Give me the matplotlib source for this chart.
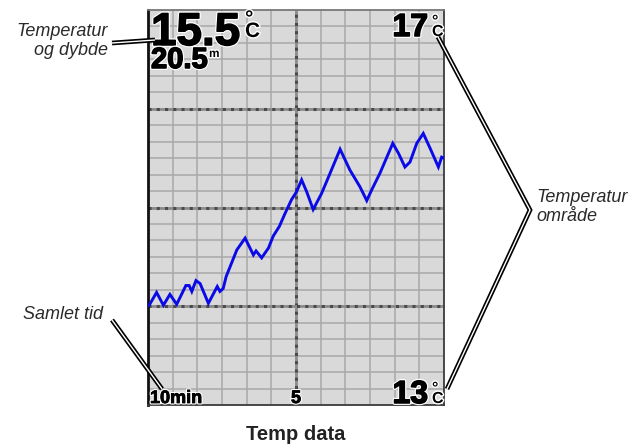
import matplotlib
matplotlib.use("Agg")
import matplotlib.pyplot as plt
import matplotlib.patheffects as pe
import numpy as np

# Temperature log: minutes ago and water temperature (°C)
minutes_ago = [9.96, 9.71, 9.48, 9.26, 9.03, 8.72, 8.61, 8.52, 8.38, 8.24,
               7.96, 7.66, 7.57, 7.46, 7.36, 7.00, 6.72, 6.44, 6.35, 6.16,
               5.93, 5.77, 5.56, 5.37, 5.15, 4.98, 4.81, 4.64, 4.42, 4.14,
               3.97, 3.51, 3.18, 2.84, 2.61, 2.44, 2.16, 1.73, 1.54, 1.32,
               1.15, 0.92, 0.70, 0.47, 0.19, 0.08, 0.0]
temperature = [14.01, 14.14, 14.01, 14.12, 14.02, 14.21, 14.21, 14.15, 14.26, 14.23,
               14.03, 14.20, 14.15, 14.18, 14.30, 14.57, 14.69, 14.52, 14.56, 14.49,
               14.59, 14.71, 14.81, 14.94, 15.08, 15.16, 15.28, 15.16, 14.98, 15.14,
               15.26, 15.59, 15.38, 15.21, 15.07, 15.18, 15.35, 15.65, 15.55, 15.41,
               15.46, 15.65, 15.75, 15.60, 15.41, 15.51, 15.5]

current_temp = 15.5
current_depth = 20.5
range_min = 13
range_max = 17
time_span = 10
time_mid = 5

callout_depth = "Temperatur\nog dybde"
callout_time = "Samlet tid"
callout_range = "Temperatur\nområde"
caption = "Temp data"

W, H = 629, 444
fig = plt.figure(figsize=(W / 100, H / 100), dpi=100)
fig.patch.set_facecolor("white")

# Chart panel
L, R, T, B = 148, 444, 10, 405
ax = fig.add_axes([L / W, 1 - B / H, (R - L) / W, (B - T) / H])
ax.set_facecolor("#d9d9d9")
ax.set_xlim(time_span, 0)
ax.set_ylim(range_min, range_max)
ax.set_xticks([])
ax.set_yticks([])

# Fine grid
for xv in np.linspace(0, time_span, 13)[1:-1]:
    ax.axvline(xv, color="#a8a8a8", lw=1.1, zorder=1)
for yv in np.linspace(range_min, range_max, 25)[1:-1]:
    ax.axhline(yv, color="#a8a8a8", lw=1.1, zorder=1)

# Major divisions: grey rule with dark tick marks
base_kw = dict(color="#8c8c8c", lw=2.0, zorder=2)
dash_kw = dict(color="#4a4a4a", lw=2.2, dashes=(1.0, 1.7), zorder=2)
ax.axvline(time_mid, **base_kw)
ax.axvline(time_mid, **dash_kw)
for yv in range(range_min + 1, range_max):
    ax.axhline(yv, **base_kw)
    ax.axhline(yv, **dash_kw)

for side, sp in ax.spines.items():
    sp.set_color("#3a3a3a")
    sp.set_linewidth(1.3)
ax.spines["left"].set_color("#111111")
ax.spines["left"].set_linewidth(2.0)
ax.spines["top"].set_color("#777777")

ax.plot(minutes_ago, temperature, color="#0a0ae8", lw=2.1, zorder=3,
        solid_joinstyle="miter")

# Overlay in pixel coordinates for labels and leader lines
ov = fig.add_axes([0, 0, 1, 1], zorder=5)
ov.set_xlim(0, W)
ov.set_ylim(H, 0)
ov.axis("off")
ov.patch.set_alpha(0)

heavy = [pe.Stroke(linewidth=2.8, foreground="white"),
         pe.Stroke(linewidth=1.1, foreground="black"), pe.Normal()]
medium = [pe.Stroke(linewidth=2.2, foreground="white"),
          pe.Stroke(linewidth=0.6, foreground="black"), pe.Normal()]
light = [pe.Stroke(linewidth=2.0, foreground="white"), pe.Normal()]
bold = dict(family="Liberation Sans", weight="bold", color="black")

# Current reading
ov.text(151, 45, f"{current_temp:.1f}", fontsize=33, ha="left", va="baseline",
        path_effects=heavy, **bold)
ov.text(245, 37, "°\nC", fontsize=15, ha="left", va="baseline", linespacing=0.55,
        path_effects=light, **bold)

ov.text(151, 68, f"{current_depth:.1f}", fontsize=21, ha="left", va="baseline",
        path_effects=heavy, **bold)
ov.text(209, 57, "m", fontsize=8.5, ha="left", va="baseline",
        path_effects=light, **bold)

# Range limits
ov.text(428, 36, f"{range_max}", fontsize=23, ha="right", va="baseline",
        path_effects=heavy, **bold)
ov.text(432, 36, "°\nC", fontsize=11.5, ha="left", va="baseline", linespacing=0.6,
        path_effects=light, **bold)

ov.text(428, 403, f"{range_min}", fontsize=23, ha="right", va="baseline",
        path_effects=heavy, **bold)
ov.text(432, 403, "°\nC", fontsize=11.5, ha="left", va="baseline", linespacing=0.6,
        path_effects=light, **bold)

# Time scale
ov.text(150, 403, f"{time_span}min", fontsize=13, ha="left", va="baseline",
        path_effects=medium, **bold)
ov.text(296, 403, f"{time_mid}", fontsize=13, ha="center", va="baseline",
        path_effects=medium, **bold)

# Callout texts
ital = dict(family="Liberation Sans", style="italic", color="#2a2a2a", fontsize=13)
ov.text(108, 41, callout_depth, ha="right", va="center", linespacing=1.2, **ital)
ov.text(103, 314, callout_time, ha="right", va="center", **ital)
ov.text(536, 207, callout_range, ha="left", va="center", linespacing=1.2, **ital)

ov.text(296, 434, caption, family="Liberation Sans", weight="bold",
        color="#222222", fontsize=14.5, ha="center", va="center")

# Double-stroke leader lines
def leader(xs, ys):
    ov.plot(xs, ys, color="black", lw=3.4, solid_capstyle="butt",
            solid_joinstyle="miter", zorder=6)
    ov.plot(xs, ys, color="white", lw=1.0, solid_capstyle="butt",
            solid_joinstyle="miter", zorder=7)

leader([112, 155], [43, 40])
leader([112, 162], [320, 389])
leader([438, 530, 447], [37, 210, 389])

fig.savefig("out.png", dpi=100, facecolor="white")
